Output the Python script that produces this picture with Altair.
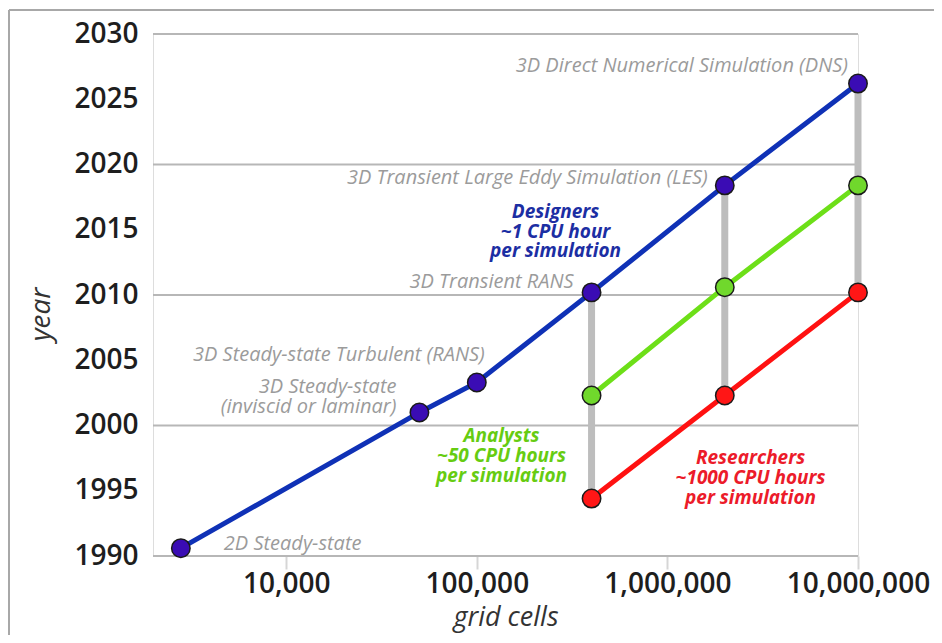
import altair as alt
import pandas as pd

# ---- data ----
cells_blue = [2800, 50000, 100000, 400000, 2000000, 10000000]
years_blue = [1990.6, 2001.0, 2003.3, 2010.2, 2018.4, 2026.2]
labels_blue = [
    "2D Steady-state",
    "3D Steady-state\n(inviscid or laminar)",
    "3D Steady-state Turbulent (RANS)",
    "3D Transient RANS",
    "3D Transient Large Eddy Simulation (LES)",
    "3D Direct Numerical Simulation (DNS)",
]
cells_green = [400000, 2000000, 10000000]
years_green = [2002.3, 2010.6, 2018.4]
cells_red = [400000, 2000000, 10000000]
years_red = [1994.4, 2002.3, 2010.2]
group_text = [
    "Designers\n~1 CPU hour\nper simulation",
    "Analysts\n~50 CPU hours\nper simulation",
    "Researchers\n~1000 CPU hours\nper simulation",
]
x_ticks = [10000, 100000, 1000000, 10000000]
y_ticks = [1990, 1995, 2000, 2005, 2010, 2015, 2020, 2025, 2030]
grid_years = [1990, 2000, 2010, 2020, 2030]

BLUE_LINE, BLUE_DOT, BLUE_TXT = "#0f31b6", "#3a0cb4", "#1c2ea3"
GREEN_LINE, GREEN_DOT, GREEN_TXT = "#6ddf18", "#70d82c", "#66cc11"
RED_LINE, RED_DOT, RED_TXT = "#ff1111", "#ff1616", "#ec1b2a"
ANN = "#9b9b9b"
FONT = "Open Sans"

df_blue = pd.DataFrame({"cells": cells_blue, "year": years_blue})
df_green = pd.DataFrame({"cells": cells_green, "year": years_green})
df_red = pd.DataFrame({"cells": cells_red, "year": years_red})
allpts = pd.concat([df_blue, df_green, df_red])
conn = allpts[allpts["cells"].isin(cells_red)].groupby("cells")["year"].agg(["min", "max"]).reset_index()
conn.columns = ["cells", "lo", "hi"]
df_grid = pd.DataFrame({"g": grid_years})

xs = alt.Scale(type="log", domain=[2000, 10000000], nice=False)
ys = alt.Scale(domain=[1990, 2030], nice=False, zero=False)

x_axis = alt.Axis(values=x_ticks, format=",", grid=False, domain=False,
                  ticks=True, tickSize=13, tickWidth=2, tickColor="#d6d6d6",
                  labelPadding=1, labelFont=FONT, labelFontWeight=600,
                  labelFontSize=28, labelColor="#1e1e1e", labelOverlap=False,
                  labelFlush=False, labelBound=False,
                  titleFont=FONT, titleFontStyle="italic", titleFontWeight="normal",
                  titleFontSize=27, titleColor="#333333", titleBaseline="middle",
                  titleY=61)
y_axis = alt.Axis(values=y_ticks, format="d", grid=False, domain=False, ticks=False,
                  labelPadding=15, labelFont=FONT, labelFontWeight=600,
                  labelFontSize=28, labelColor="#1e1e1e", labelOverlap=False,
                  titleFont=FONT, titleFontStyle="italic", titleFontWeight="normal",
                  titleFontSize=28, titleColor="#333333", titleBaseline="middle",
                  titleAngle=-90, titleX=-112, titleY=280)

X = alt.X("cells:Q", scale=xs, title="grid cells", axis=x_axis)
Y = alt.Y("year:Q", scale=ys, title="year", axis=y_axis)

grid = alt.Chart(df_grid).mark_rule(color="#b7b7b7", strokeWidth=2).encode(
    y=alt.Y("g:Q", scale=ys, title="year", axis=y_axis))

connectors = alt.Chart(conn).mark_rule(color="#bdbdbd", strokeWidth=7).encode(
    x=X, y=alt.Y("lo:Q", scale=ys, title="year", axis=y_axis), y2="hi:Q")


def series(df, line_c, dot_c):
    ln = alt.Chart(df).mark_line(color=line_c, strokeWidth=5).encode(x=X, y=Y)
    pt = alt.Chart(df).mark_point(filled=True, fill=dot_c, stroke="#1a1a1a", strokeWidth=1.5,
                                  size=340, opacity=1).encode(x=X, y=Y)
    return ln, pt


bl, bp = series(df_blue, BLUE_LINE, BLUE_DOT)
gl, gp = series(df_green, GREEN_LINE, GREEN_DOT)
rl, rp = series(df_red, RED_LINE, RED_DOT)


def label(cell, yr, txt, dx, dy, align, color, size=20, weight="normal", lh=20):
    d = pd.DataFrame({"cells": [cell], "year": [yr], "t": [txt]})
    return alt.Chart(d).mark_text(
        align=align, baseline="middle", dx=dx, dy=dy, color=color, font=FONT,
        fontStyle="italic", fontWeight=weight, fontSize=size, lineBreak="\n", lineHeight=lh
    ).encode(x=X, y=Y, text="t:N")


# (dx, dy of first line, align)
ann_offsets = [(43, -4, "left"), (-23, -25, "right"), (8, -27, "right"),
               (-18, -10, "right"), (-17, -7, "right"), (-10, -18, "right")]
ann = [label(cells_blue[i], years_blue[i], labels_blue[i], *ann_offsets[i], ANN)
       for i in range(len(labels_blue))]

grp = [
    label(cells_blue[3], years_blue[3], group_text[0], -36, -80, "center", BLUE_TXT, 19, "bold", 19.5),
    label(cells_green[0], years_green[0], group_text[1], -90, 41, "center", GREEN_TXT, 19, "bold", 20),
    label(cells_red[0], years_red[0], group_text[2], 159, -41, "center", RED_TXT, 19, "bold", 20),
]

frame_df = pd.DataFrame({"k": [0]})
frame_left = alt.Chart(frame_df).mark_rule(color="#a8a8a8", strokeWidth=2).encode(
    x=alt.value(-144), y=alt.value(-24), y2=alt.value(700))
frame_top = alt.Chart(frame_df).mark_rule(color="#a8a8a8", strokeWidth=2).encode(
    x=alt.value(-144), x2=alt.value(900), y=alt.value(-24))

chart = alt.layer(
    grid, connectors, bl, gl, rl, bp, gp, rp, *ann, *grp, frame_left, frame_top
).properties(
    width=705, height=522,
    autosize=alt.AutoSizeParams(type="none"),
    padding={"left": 145, "top": 26, "right": 76, "bottom": 79},
).configure_view(fill="#e8e8ea", stroke="transparent").configure(background="white")

chart.save("out.html", embed_options={"renderer": "svg", "actions": False})
